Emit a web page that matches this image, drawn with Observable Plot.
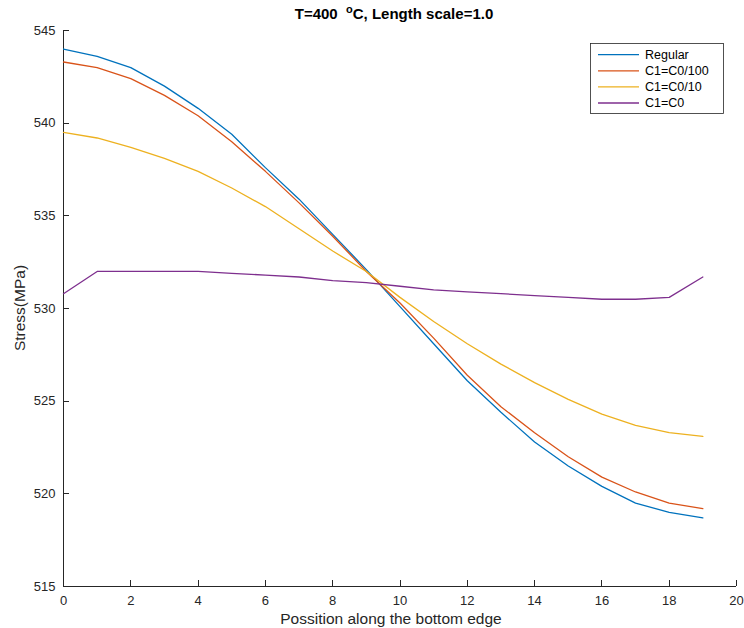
<!DOCTYPE html>
<html>
<head>
<meta charset="utf-8">
<script src="https://cdn.jsdelivr.net/npm/d3@7"></script>
<script src="https://cdn.jsdelivr.net/npm/@observablehq/plot@0.6"></script>
<style>
  body { margin: 0; background: #fff; }
  #chart { width: 744px; height: 628px; }
</style>
</head>
<body>
<div id="chart"></div>
<script>
const positions = [0,1,2,3,4,5,6,7,8,9,10,11,12,13,14,15,16,17,18,19];
const seriesNames = ["Regular", "C1=C0/100", "C1=C0/10", "C1=C0"];
const regular = [544.0,543.6,543.0,542.0,540.8,539.4,537.6,535.9,534.0,532.1,530.1,528.1,526.1,524.4,522.8,521.5,520.4,519.5,519.0,518.7];
const c0_100  = [543.3,543.0,542.4,541.5,540.4,539.0,537.4,535.7,533.9,532.0,530.3,528.4,526.4,524.7,523.3,522.0,520.9,520.1,519.5,519.2];
const c0_10   = [539.5,539.2,538.7,538.1,537.4,536.5,535.5,534.3,533.1,532.0,530.6,529.3,528.1,527.0,526.0,525.1,524.3,523.7,523.3,523.1];
const c0      = [530.8,532.0,532.0,532.0,532.0,531.9,531.8,531.7,531.5,531.4,531.2,531.0,530.9,530.8,530.7,530.6,530.5,530.5,530.6,531.7];
const xTicks = [0,2,4,6,8,10,12,14,16,18,20];
const yTicks = [515,520,525,530,535,540,545];
const colors = ["#0072BD", "#D95319", "#EDB120", "#7E2F8E"];

const seriesValues = [regular, c0_100, c0_10, c0];
const data = [];
seriesNames.forEach((name, i) => {
  positions.forEach((p, j) => data.push({series: name, x: p, y: seriesValues[i][j]}));
});

const ink = "#262626";
const font = "'Liberation Sans', Arial, Helvetica, sans-serif";

const plot = Plot.plot({
  width: 744,
  height: 628,
  marginLeft: 63,
  marginRight: 8,
  marginTop: 30,
  marginBottom: 42,
  style: {fontFamily: font, fontSize: "13px", color: ink, background: "#fff"},
  x: {domain: [0, 20]},
  y: {domain: [515, 545]},
  color: {domain: seriesNames, range: colors},
  marks: [
    Plot.axisX({ticks: xTicks, tickSize: 0, tickPadding: 9, label: null, fill: ink, fontSize: 13}),
    Plot.axisY({ticks: yTicks, tickSize: 0, tickPadding: 8, label: null, fill: ink, fontSize: 13}),
    Plot.ruleY([515], {stroke: ink, strokeWidth: 1}),
    Plot.ruleX([0], {stroke: ink, strokeWidth: 1}),
    Plot.line(data, {x: "x", y: "y", z: "series", stroke: "series", strokeWidth: 1.3})
  ]
});

document.getElementById("chart").appendChild(plot);

const svg = d3.select(plot);
const sx = plot.scale("x"), sy = plot.scale("y");
const x0 = sx.apply(0), yBase = sy.apply(515);

// Inward ticks
const tg = svg.append("g").attr("stroke", ink).attr("stroke-width", 1);
xTicks.forEach(t => {
  const px = Math.round(sx.apply(t)) + 0.5;
  tg.append("line").attr("x1", px).attr("x2", px).attr("y1", yBase).attr("y2", yBase - 6);
});
yTicks.forEach(t => {
  const py = Math.round(sy.apply(t)) + 0.5;
  tg.append("line").attr("x1", x0).attr("x2", x0 + 6).attr("y1", py).attr("y2", py);
});

// Title
const title = svg.append("text")
  .attr("x", 394).attr("y", 19)
  .attr("text-anchor", "middle")
  .attr("font-family", font).attr("font-size", 15).attr("font-weight", "bold")
  .attr("fill", "#000");
title.append("tspan").text("T=400  ");
title.append("tspan").attr("font-size", 11).attr("dy", -6).text("o");
title.append("tspan").attr("dy", 6).text("C, Length scale=1.0");

// Axis labels
svg.append("text")
  .attr("x", 391).attr("y", 624)
  .attr("text-anchor", "middle")
  .attr("font-family", font).attr("font-size", 15.5)
  .attr("fill", ink)
  .text("Possition along the bottom edge");

svg.append("text")
  .attr("transform", "translate(25,308) rotate(-90)")
  .attr("text-anchor", "middle")
  .attr("font-family", font).attr("font-size", 15.5)
  .attr("fill", ink)
  .text("Stress(MPa)");

// Legend
const lg = svg.append("g");
lg.append("rect")
  .attr("x", 590.5).attr("y", 43.5).attr("width", 133).attr("height", 70)
  .attr("fill", "#fff").attr("stroke", ink).attr("stroke-width", 0.8);
const rowY = [54.7, 70.8, 86.9, 103];
seriesNames.forEach((name, i) => {
  lg.append("line")
    .attr("x1", 598).attr("x2", 639).attr("y1", rowY[i]).attr("y2", rowY[i])
    .attr("stroke", colors[i]).attr("stroke-width", 1.3);
  lg.append("text")
    .attr("x", 645).attr("y", rowY[i]).attr("dy", "0.35em")
    .attr("text-anchor", "start")
    .attr("font-family", font).attr("font-size", 12.5)
    .attr("fill", "#000")
    .text(name);
});
</script>
</body>
</html>
